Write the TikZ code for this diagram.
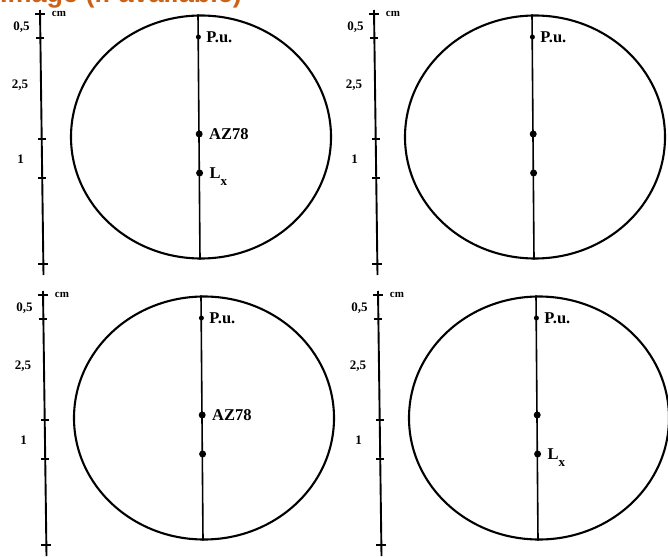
\documentclass[tikz,border=0pt]{standalone}
\usepackage{fontspec}
\usepackage{xcolor}
\usepackage{tikz}
\usetikzlibrary{positioning,shapes.geometric}

\setmainfont{Liberation Serif}
\newfontfamily\headfont{Liberation Sans}
\definecolor{headorange}{RGB}{201,99,28}

\begin{document}
\begin{tikzpicture}[
    x=1pt, y=-1pt,
    head/.style={font=\headfont\bfseries\fontsize{27}{30}\selectfont, text=headorange, inner sep=0pt, anchor=base west},
    ring/.style={draw, ellipse, line width=2.1pt, minimum width=260pt, minimum height=243pt, inner sep=0pt},
    midline/.style={line width=1.6pt},
    ruler/.style={line width=1.9pt},
    notch/.style={rectangle, fill, inner sep=0pt, minimum width=8pt, minimum height=1.8pt},
    endnotch/.style={rectangle, fill, inner sep=0pt, minimum width=10pt, minimum height=2.6pt},
    dot/.style={circle, fill, inner sep=0pt, minimum size=7pt},
    smalldot/.style={circle, fill, inner sep=0pt, minimum size=5pt},
    lab/.style={font=\bfseries\fontsize{16.5}{18}\selectfont, inner sep=0pt, text depth=0pt},
    num/.style={font=\bfseries\fontsize{13}{15}\selectfont, inner sep=0pt},
    unit/.style={font=\bfseries\fontsize{11}{13}\selectfont, inner sep=0pt}
]
\useasboundingbox (0,0) rectangle (668,556);

% Heading (cut at the top edge)
\node[head] (title) at (0,3) {Image (if available)};

% Four panels: ruler, ellipse, axis with points
\foreach \i/\dx/\dy in {1/0/0, 2/334/0, 3/3/281, 4/338/281} {
  \begin{scope}[shift={(\dx,\dy)}]
    \coordinate (top\i) at (40,10);
    \coordinate (bot\i) at (43.5,275);
    \draw[ruler] (top\i) -- (bot\i);
    \node[endnotch] (na\i) at (40.1,14) {};
    \node[notch] (nb\i) at (40.4,38) {};
    \node[notch] (nc\i) at (41.7,139) {};
    \node[notch] (nd\i) at (42.2,178) {};
    \node[endnotch] (ne\i) at (43.3,264) {};
    \node[unit] (cm\i) at (59,14) {cm};
    \node[num] (half\i) at (21.5,27) {0,5};
    \node[num] (twohalf\i) at (20,85) {2,5};
    \node[num] (one\i) at (20.5,159) {1};

    \node[ring] (ring\i) at (201,137) {};
    \draw[midline] ([xshift=-3]ring\i.north) -- ([xshift=-1]ring\i.south);
    \node[smalldot] (pu\i) at (198.4,37) {};
    \node[dot] (az\i) at (199.2,134) {};
    \node[dot] (lx\i) at (199.6,173) {};
    \node[lab, right=5pt of pu\i] (pulab\i) {P.u.};
  \end{scope}
}

% Labels of the lower points
\node[lab, right=6pt of az1] (azlab1) {AZ78};
\node[lab, right=6pt of lx1] (lxlab1) {L\raisebox{-0.4em}{\fontsize{13}{14}\selectfont x}};
\node[lab, right=6pt of az3] (azlab3) {AZ78};
\node[lab, right=6pt of lx4] (lxlab4) {L\raisebox{-0.4em}{\fontsize{13}{14}\selectfont x}};

\end{tikzpicture}
\end{document}
